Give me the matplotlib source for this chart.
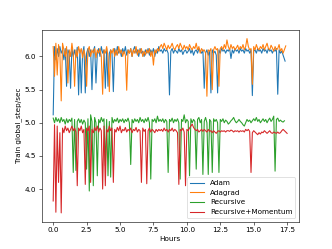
import matplotlib
matplotlib.use("Agg")
import matplotlib.pyplot as plt

hours = [0.0, 0.1, 0.2, 0.3, 0.4, 0.5, 0.6, 0.7, 0.8, 0.9,
         1.0, 1.1, 1.2, 1.3, 1.4, 1.5, 1.6, 1.7, 1.8, 1.9,
         2.0, 2.1, 2.2, 2.3, 2.4, 2.5, 2.6, 2.7, 2.8, 2.9,
         3.0, 3.1, 3.2, 3.3, 3.4, 3.5, 3.6, 3.7, 3.8, 3.9,
         4.0, 4.1, 4.2, 4.3, 4.4, 4.5, 4.6, 4.7, 4.8, 4.9,
         5.0, 5.1, 5.2, 5.3, 5.4, 5.5, 5.6, 5.7, 5.8, 5.9,
         6.0, 6.1, 6.2, 6.3, 6.4, 6.5, 6.6, 6.7, 6.8, 6.9,
         7.0, 7.1, 7.2, 7.3, 7.4, 7.5, 7.6, 7.7, 7.8, 7.9,
         8.0,
         8.1, 8.2, 8.3, 8.4, 8.5, 8.6, 8.7, 8.8, 8.9, 9.0,
         9.1, 9.2, 9.3, 9.4, 9.5, 9.6, 9.7, 9.8, 9.9, 10.0,
         10.1, 10.2, 10.3, 10.4, 10.5, 10.6, 10.7, 10.8, 10.9, 11.0,
         11.1, 11.2, 11.3, 11.4, 11.5, 11.6, 11.7, 11.8, 11.9, 12.0,
         12.1, 12.2, 12.3, 12.4, 12.5, 12.6, 12.7, 12.8, 12.9, 13.0,
         13.1, 13.2, 13.3, 13.4, 13.5, 13.6, 13.7, 13.8, 13.9, 14.0,
         14.1, 14.2, 14.3, 14.4, 14.5, 14.6, 14.7, 14.8, 14.9, 15.0,
         15.1, 15.2, 15.3, 15.4, 15.5, 15.6, 15.7, 15.8, 15.9, 16.0,
         16.1, 16.2, 16.3, 16.4, 16.5, 16.6, 16.7, 16.8, 16.9, 17.0,
         17.1, 17.2]

adam = [5.12, 6.15, 5.95, 6.12, 6.0, 6.15, 6.05, 6.1, 5.95, 6.12,
        5.55, 6.1, 6.05, 5.52, 6.12, 6.0, 6.1, 5.98, 6.14, 5.42,
        6.1, 5.45, 6.05, 6.15, 5.45, 6.05, 6.12, 6.0, 6.1, 5.5,
        6.08, 6.15, 5.6, 6.05, 6.12, 6.0, 6.15, 6.05, 6.1, 5.52,
        6.12, 5.55, 6.05, 6.1, 6.05, 5.47, 6.12, 6.02, 6.15, 6.05,
        6.1, 6.0, 6.12, 6.05, 6.15, 6.02, 6.1, 6.05, 6.12, 6.0,
        6.1, 6.15, 6.05, 6.1, 6.0, 6.12, 6.05, 6.08, 6.0, 6.1,
        6.05, 6.12, 6.02, 6.1, 6.05, 6.12, 6.0, 6.1, 6.05, 6.15,
        6.08,
        6.1, 6.05, 6.12, 6.08, 6.1, 6.05, 5.42, 6.08, 6.12, 6.05,
        6.1, 6.08, 6.05, 6.12, 6.07, 6.1, 6.03, 6.08, 6.1, 6.05,
        6.08, 6.12, 6.05, 6.1, 6.02, 6.08, 6.1, 6.05, 6.12, 6.08,
        6.05, 6.1, 5.52, 6.05, 6.1, 6.02, 6.08, 5.45, 6.1, 6.05,
        6.08, 6.02, 5.45, 6.1, 6.05, 6.12, 6.08, 6.1, 6.05, 6.1,
        6.08, 6.12, 5.97, 6.1, 6.05, 6.12, 6.08, 6.1, 6.05, 6.12,
        6.08, 6.1, 6.05, 6.12, 6.08, 6.1, 6.05, 6.1, 5.41, 6.08,
        6.1, 6.05, 6.12, 6.08, 6.1, 6.05, 6.12, 6.08, 6.1, 6.05,
        6.12, 6.08, 6.1, 6.05, 6.1, 6.08, 6.12, 5.43, 6.1, 6.05,
        6.08, 6.02]

adagrad = [6.15, 5.7, 6.2, 5.72, 6.18, 6.05, 5.33, 6.2, 6.1, 6.0,
           6.15, 5.6, 6.1, 6.0, 6.2, 6.05, 5.55, 6.1, 6.0, 6.15,
           6.05, 6.12, 5.98, 6.1, 6.0, 5.55, 6.1, 6.15, 6.0, 6.1,
           6.05, 6.12, 5.98, 6.1, 6.05, 6.12, 6.0, 5.43, 6.1, 6.05,
           6.15, 6.0, 5.47, 6.1, 6.05, 6.12, 6.0, 6.1, 6.02, 6.15,
           6.05, 6.1, 6.0, 6.08, 6.02, 5.49, 6.1, 6.05, 6.12, 6.0,
           6.1, 6.05, 6.15, 6.02, 6.1, 6.05, 6.12, 6.0, 6.08, 6.02,
           6.1, 6.05, 6.12, 6.0, 6.08, 5.87, 6.1, 6.05, 6.12, 6.08,
           6.15,
           6.18, 6.12, 6.2, 6.15, 6.1, 6.17, 6.12, 6.15, 6.2, 6.13,
           6.1, 6.15, 6.18, 6.12, 6.2, 6.15, 6.1, 6.17, 6.12, 6.15,
           6.1, 6.18, 6.13, 6.1, 6.15, 6.12, 6.2, 6.1, 6.15, 6.05,
           6.12, 6.08, 6.1, 6.05, 5.4, 6.1, 6.08, 6.12, 5.5, 6.1,
           6.15, 6.1, 6.12, 5.55, 6.12, 6.15, 6.1, 6.18, 6.12, 6.25,
           6.15, 6.1, 6.18, 6.12, 6.15, 6.1, 6.13, 6.17, 6.1, 6.15,
           6.12, 6.18, 6.1, 6.15, 6.27, 6.15, 6.1, 6.12, 5.58, 6.15,
           6.1, 6.18, 6.12, 6.1, 6.15, 6.12, 6.18, 6.1, 6.15, 6.2,
           6.12, 6.1, 6.17, 6.13, 6.08, 6.15, 6.1, 6.12, 6.18, 6.08,
           6.12, 6.05]

recursive = [5.07, 5.0, 5.08, 5.02, 5.06, 5.0, 5.08, 5.02, 5.05, 4.98,
             5.06, 5.0, 5.05, 5.02, 5.07, 4.25, 5.05, 4.28, 5.02, 5.06,
             5.0, 5.05, 4.98, 5.04, 5.0, 4.3, 5.06, 3.97, 5.12, 5.02,
             4.05, 5.08, 5.0, 4.2, 5.05, 5.0, 5.08, 5.02, 5.06, 4.35,
             5.05, 4.2, 5.02, 4.18, 5.08, 5.0, 5.05, 5.02, 5.07, 5.0,
             5.05, 5.02, 5.06, 5.0, 5.05, 5.02, 5.07, 5.0, 4.37, 5.05,
             5.0, 5.06, 5.02, 5.05, 5.0, 5.08, 5.02, 5.05, 5.0, 5.06,
             5.02, 5.08, 5.0, 4.15, 5.05, 5.02, 5.06, 5.0, 5.1, 5.02,
             5.05,
             5.02, 5.06, 5.0, 5.05, 5.02, 4.25, 5.05, 5.02, 5.07, 5.0,
             5.05, 5.02, 5.06, 5.0, 4.15, 5.05, 5.02, 5.12, 5.0, 5.05,
             5.02, 4.2, 5.06, 5.0, 5.05, 5.02, 4.3, 5.05, 5.08, 5.0,
             5.05, 4.22, 5.02, 5.08, 5.0, 4.22, 5.05, 5.02, 4.25, 5.06,
             5.02, 5.05, 5.0, 4.25, 5.05, 5.02, 5.06, 5.0, 5.04, 5.02,
             4.98, 5.0, 5.03, 5.05, 5.08, 5.03, 5.0, 5.02, 5.05, 5.02,
             5.0, 4.97, 4.95, 5.0, 5.05, 5.02, 5.04, 5.0, 5.03, 5.06,
             5.03, 5.08, 5.02, 5.05, 5.0, 5.03, 5.06, 5.02, 5.05, 5.0,
             5.04, 5.07, 5.02, 5.05, 5.1, 4.27, 5.05, 5.07, 5.02, 5.04,
             5.02, 5.01]

recursive_momentum = [3.82, 4.97, 3.65, 4.95, 4.1, 4.85, 3.64, 4.92, 4.85, 4.95,
                      4.88, 4.92, 4.85, 4.9, 4.95, 4.88, 4.92, 4.86, 4.05, 4.92,
                      4.88, 4.95, 4.85, 4.9, 4.07, 4.92, 4.88, 4.95, 4.1, 4.9,
                      4.85, 4.93, 4.88, 4.95, 4.86, 4.92, 4.88, 4.0, 4.95, 4.05,
                      4.9, 4.86, 4.95, 4.88, 4.92, 4.1, 4.9, 4.86, 4.93, 4.88,
                      4.95, 4.85, 4.9, 4.88, 4.93, 4.86, 4.9, 4.88, 4.92, 4.85,
                      4.9, 4.88, 4.93, 4.86, 4.9, 4.88, 4.1, 4.92, 4.87, 4.9,
                      4.08, 4.88, 4.92, 4.86, 4.9, 4.88, 4.85, 4.9, 4.87, 4.9,
                      4.88,
                      4.9, 4.87, 4.92, 4.88, 4.9, 4.86, 4.9, 4.88, 4.92, 4.87,
                      4.9, 4.88, 4.85, 4.07, 4.9, 4.88, 4.92, 4.86, 4.05, 4.9,
                      4.88, 4.92, 4.95, 4.98, 4.93, 4.9, 4.88, 4.9, 4.86, 4.88,
                      4.9, 4.87, 4.9, 4.88, 4.86, 4.9, 4.87, 4.88, 4.85, 4.88,
                      4.86, 4.84, 4.87, 4.88, 4.86, 4.88, 4.87, 4.88, 4.86, 4.88,
                      4.88, 4.87, 4.89, 4.88, 4.86, 4.88, 4.87, 4.88, 4.86, 4.88,
                      4.87, 4.88, 4.86, 4.9, 4.88, 4.9, 4.87, 4.25, 4.85, 4.88,
                      4.86, 4.84, 4.82, 4.85, 4.83, 4.86, 4.85, 4.88, 4.86, 4.84,
                      4.86, 4.88, 4.85, 4.84, 4.86, 4.85, 4.84, 4.86, 4.84, 4.85,
                      4.88, 4.9]

series_names = ["Adam", "Adagrad", "Recursive", "Recursive+Momentum"]
end_hours = [17.35, 17.4, 17.3, 17.5]
end_values = [5.93, 6.16, 5.03, 4.84]

fig, ax = plt.subplots(figsize=(6.4, 4.8), dpi=51.875)
for name, vals, eh, ev in zip(series_names,
                              [adam, adagrad, recursive, recursive_momentum],
                              end_hours, end_values):
    ax.plot(hours + [eh], vals + [ev], label=name)

ax.set_xlabel("Hours")
ax.set_ylabel("Train global_step/sec")
ax.legend(loc="lower right")
fig.savefig("out.png", dpi=51.875)
